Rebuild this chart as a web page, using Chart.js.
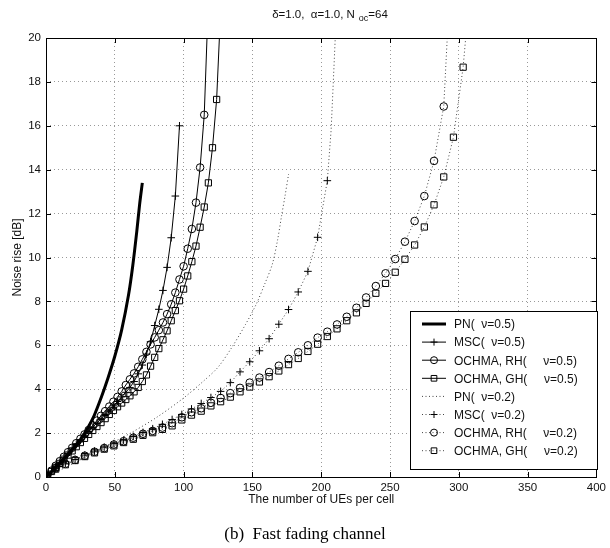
<!DOCTYPE html>
<html>
<head>
<meta charset="utf-8">
<script src="https://cdn.jsdelivr.net/npm/chart.js@4"></script>
<style>
  html, body { margin: 0; padding: 0; background: #fff; }
  #wrap { width: 610px; height: 548px; position: relative; }
</style>
</head>
<body>
<div id="wrap"><canvas id="grafico" width="610" height="548"></canvas></div>
<script>
// ticks
var xTicks = [0, 50, 100, 150, 200, 250, 300, 350, 400];
var yTicks = [0, 2, 4, 6, 8, 10, 12, 14, 16, 18, 20];

// nu = 0.5
var pn05X = [0, 5, 10, 15, 20, 25, 30, 35, 40, 45, 50, 55, 60, 63, 66, 68, 70];
var pn05Y = [0, 0.3, 0.62, 0.95, 1.3, 1.7, 2.2, 2.8, 3.6, 4.5, 5.5, 6.7, 8.3, 9.6, 11.2, 12.4, 13.4];

var x05 = [1, 4, 7, 10, 13, 16, 19, 22, 25, 28, 31, 34, 37, 40, 43, 46, 49, 52, 55, 58, 61, 64, 67, 70,
           73, 76, 79, 82, 85, 88, 91, 94, 97, 100, 103, 106, 109, 112, 115, 118, 121, 124];
var msc05Y = [0.07, 0.27, 0.48, 0.68, 0.88, 1.08, 1.28, 1.48, 1.67, 1.87, 2.07, 2.27, 2.46, 2.65, 2.85, 3.04,
              3.24, 3.44, 3.65, 3.86, 4.08, 4.35, 4.7, 5.1, 5.6, 6.16, 6.9, 7.64, 8.5, 9.55, 10.9, 12.8, 16.0];
var rh05Y = [0.07, 0.29, 0.51, 0.72, 0.92, 1.13, 1.33, 1.54, 1.74, 1.94, 2.14, 2.35, 2.57, 2.79, 3.0, 3.21,
             3.43, 3.65, 3.9, 4.19, 4.45, 4.72, 5.02, 5.36, 5.7, 6.04, 6.36, 6.69, 7.04, 7.42, 7.87, 8.4,
             9.0, 9.6, 10.4, 11.3, 12.5, 14.1, 16.5];
var rh05Tail = [[117, 20]];
var gh05Y = [0.06, 0.25, 0.44, 0.62, 0.81, 1.0, 1.19, 1.38, 1.57, 1.76, 1.94, 2.12, 2.3, 2.48, 2.66, 2.85,
             3.03, 3.2, 3.37, 3.53, 3.7, 3.88, 4.08, 4.35, 4.65, 5.05, 5.45, 5.85, 6.25, 6.66, 7.12, 7.58,
             8.03, 8.56, 9.16, 9.81, 10.52, 11.38, 12.3, 13.4, 15.0, 17.2];
var gh05Tail = [[126, 20]];

// nu = 0.2
var pn02X = [0, 20, 40, 60, 80, 100, 115, 125, 135, 145, 153, 159, 164.5, 168.3, 171.2, 173.7, 176.3];
var pn02Y = [0, 0.62, 1.3, 1.95, 2.7, 3.6, 4.4, 5.0, 5.9, 6.95, 7.9, 8.8, 9.7, 10.8, 11.9, 12.8, 13.8];

var x02 = [0, 7.05, 14.1, 21.15, 28.2, 35.25, 42.3, 49.35, 56.4, 63.45, 70.5, 77.55, 84.6, 91.65, 98.7,
           105.75, 112.8, 119.85, 126.9, 133.95, 141, 148.05, 155.1, 162.15, 169.2, 176.25, 183.3, 190.35,
           197.4, 204.45, 211.5, 218.55, 225.6, 232.65, 239.7, 246.75, 253.8, 260.85, 267.9, 274.95, 282,
           289.05, 296.1, 303.15];
var msc02Y = [0, 0.4, 0.6, 0.8, 1.0, 1.18, 1.36, 1.52, 1.68, 1.85, 2.03, 2.2, 2.4, 2.62, 2.85, 3.1, 3.35,
              3.62, 3.9, 4.3, 4.79, 5.25, 5.75, 6.3, 6.96, 7.63, 8.43, 9.37, 10.92, 13.5];
var msc02Tail = [[207.2, 15.8], [208.8, 18], [210.2, 20]];
var rh02Y = [0, 0.4, 0.6, 0.78, 0.97, 1.15, 1.32, 1.48, 1.63, 1.79, 1.97, 2.1, 2.25, 2.45, 2.72, 2.95, 3.13,
             3.38, 3.6, 3.82, 4.06, 4.3, 4.53, 4.78, 5.07, 5.38, 5.68, 6.0, 6.35, 6.62, 6.95, 7.3, 7.71, 8.18,
             8.7, 9.28, 9.93, 10.72, 11.66, 12.8, 14.4, 16.88];
var rh02Tail = [[291.6, 20]];
var gh02Y = [0, 0.36, 0.56, 0.75, 0.93, 1.1, 1.27, 1.42, 1.57, 1.72, 1.9, 2.02, 2.17, 2.33, 2.6, 2.82, 3.0,
             3.24, 3.43, 3.64, 3.88, 4.1, 4.33, 4.57, 4.83, 5.12, 5.4, 5.72, 6.05, 6.4, 6.75, 7.12, 7.48, 7.91,
             8.37, 8.82, 9.33, 9.92, 10.57, 11.39, 12.4, 13.67, 15.48, 18.67];
var gh02Tail = [[305, 20]];

function puntos(xs, ys, tail) {
  var d = ys.map(function (y, i) { return { x: xs[i], y: y }; });
  (tail || []).forEach(function (p) { d.push({ x: p[0], y: p[1] }); });
  return d;
}

function serie(label, data, nMark, style, dotted, thick) {
  return {
    label: label,
    data: data,
    borderColor: dotted ? '#444' : '#000',
    borderWidth: thick ? 3 : 1,
    borderDash: dotted ? [1, 2.5] : [],
    pointStyle: style || false,
    pointRadius: function (ctx) { return style && ctx.dataIndex < nMark ? (style === 'rect' ? 4.4 : 3.8) : 0; },
    pointBorderColor: '#000',
    pointBackgroundColor: 'rgba(0,0,0,0)',
    pointBorderWidth: 1,
    tension: thick || !style ? 0.3 : 0,
    fill: false
  };
}

var datasets = [
  serie('PN(  \u03bd=0.5)', puntos(pn05X, pn05Y), 0, null, false, true),
  serie('MSC(  \u03bd=0.5)', puntos(x05, msc05Y), msc05Y.length, 'cross', false, false),
  serie('OCHMA, RH(     \u03bd=0.5)', puntos(x05, rh05Y, rh05Tail), rh05Y.length, 'circle', false, false),
  serie('OCHMA, GH(     \u03bd=0.5)', puntos(x05, gh05Y, gh05Tail), gh05Y.length, 'rect', false, false),
  serie('PN(  \u03bd=0.2)', puntos(pn02X, pn02Y), 0, null, true, false),
  serie('MSC(  \u03bd=0.2)', puntos(x02, msc02Y, msc02Tail), msc02Y.length, 'cross', true, false),
  serie('OCHMA, RH(     \u03bd=0.2)', puntos(x02, rh02Y, rh02Tail), rh02Y.length, 'circle', true, false),
  serie('OCHMA, GH(     \u03bd=0.2)', puntos(x02, gh02Y, gh02Tail), gh02Y.length, 'rect', true, false)
];

var fuente = '"Liberation Sans", Arial, sans-serif';

// caja, marcas hacia dentro, titulo, leyenda y pie
var extras = {
  id: 'extras',
  afterDraw: function (chart) {
    var ctx = chart.ctx, a = chart.chartArea;
    var sx = chart.scales.x, sy = chart.scales.y;
    ctx.save();
    ctx.strokeStyle = '#000';
    ctx.lineWidth = 1;
    ctx.setLineDash([]);
    ctx.strokeRect(Math.round(a.left) + 0.5, Math.round(a.top) + 0.5,
                   Math.round(a.right - a.left), Math.round(a.bottom - a.top));
    ctx.beginPath();
    xTicks.forEach(function (v) {
      var px = Math.round(sx.getPixelForValue(v)) + 0.5;
      ctx.moveTo(px, a.bottom); ctx.lineTo(px, a.bottom - 5);
      ctx.moveTo(px, a.top); ctx.lineTo(px, a.top + 5);
    });
    yTicks.forEach(function (v) {
      var py = Math.round(sy.getPixelForValue(v)) + 0.5;
      ctx.moveTo(a.left, py); ctx.lineTo(a.left + 5, py);
      ctx.moveTo(a.right, py); ctx.lineTo(a.right - 5, py);
    });
    ctx.stroke();

    // titulo
    ctx.fillStyle = '#111';
    ctx.textBaseline = 'alphabetic';
    ctx.textAlign = 'left';
    var t1 = '\u03b4=1.0,  \u03b1=1.0, N', t2 = 'oc', t3 = '=64';
    ctx.font = '11.5px ' + fuente;
    var w1 = ctx.measureText(t1).width, w3 = ctx.measureText(t3).width;
    ctx.font = '9px ' + fuente;
    var w2 = ctx.measureText(t2).width + 4;
    var x0 = 330 - (w1 + w2 + w3) / 2;
    ctx.font = '11.5px ' + fuente;
    ctx.fillText(t1, x0, 18);
    ctx.font = '9px ' + fuente;
    ctx.fillText(t2, x0 + w1 + 4, 21);
    ctx.font = '11.5px ' + fuente;
    ctx.fillText(t3, x0 + w1 + w2, 18);

    // leyenda
    var lx = 410, ly = 311, lw = 187, lh = 158;
    ctx.fillStyle = '#fff';
    ctx.fillRect(lx, ly, lw, lh);
    ctx.strokeStyle = '#000';
    ctx.strokeRect(lx + 0.5, ly + 0.5, lw, lh);
    chart.data.datasets.forEach(function (ds, i) {
      var ry = ly + 13 + i * 18.1;
      ctx.save();
      ctx.strokeStyle = ds.borderColor;
      ctx.lineWidth = ds.borderWidth;
      ctx.setLineDash(ds.borderDash);
      ctx.beginPath();
      ctx.moveTo(422, ry); ctx.lineTo(446, ry);
      ctx.stroke();
      ctx.setLineDash([]);
      if (ds.pointStyle) {
        ctx.strokeStyle = '#000';
        ctx.fillStyle = 'rgba(0,0,0,0)';
        ctx.lineWidth = 1;
        Chart.helpers.drawPoint(ctx, { pointStyle: ds.pointStyle, rotation: 0,
          radius: ds.pointStyle === 'rect' ? 4 : 3.5, borderWidth: 1 }, 434, ry);
      }
      ctx.restore();
      ctx.fillStyle = '#111';
      ctx.font = '12px ' + fuente;
      ctx.textBaseline = 'middle';
      ctx.fillText(ds.label, 454, ry + 1);
    });

    // pie de figura
    ctx.font = '17px "Liberation Serif", "Times New Roman", serif';
    ctx.textAlign = 'center';
    ctx.textBaseline = 'alphabetic';
    ctx.fillStyle = '#000';
    ctx.fillText('(b)  Fast fading channel', 305, 539);
    ctx.restore();
  }
};

var grilla = { color: '#999', lineWidth: 1, drawTicks: false };
var borde = { display: false, dash: [1, 3] };

document.addEventListener('DOMContentLoaded', function () {
  var ctx = document.getElementById('grafico').getContext('2d');
  new Chart(ctx, {
    type: 'line',
    data: { datasets: datasets },
    options: {
      responsive: false,
      animation: false,
      parsing: false,
      layout: { padding: { top: 38, right: 8, left: 0, bottom: 0 } },
      plugins: { legend: { display: false }, tooltip: { enabled: false } },
      scales: {
        x: {
          type: 'linear', min: 0, max: 400,
          afterFit: function (s) { s.height = 71; },
          afterBuildTicks: function (s) { s.ticks = xTicks.map(function (v) { return { value: v }; }); },
          grid: grilla, border: borde,
          ticks: { padding: 4, color: '#111', font: { family: fuente, size: 11.5 } },
          title: { display: true, text: 'The number of UEs per cell', color: '#111',
                   font: { family: fuente, size: 12 }, padding: { top: 0, bottom: 41 } }
        },
        y: {
          type: 'linear', min: 0, max: 20,
          afterFit: function (s) { s.width = 46; },
          afterBuildTicks: function (s) { s.ticks = yTicks.map(function (v) { return { value: v }; }); },
          grid: grilla, border: borde,
          ticks: { padding: 5, color: '#111', font: { family: fuente, size: 11.5 } },
          title: { display: true, text: 'Noise rise [dB]', color: '#111',
                   font: { family: fuente, size: 12 }, padding: { top: 10, bottom: 0 } }
        }
      }
    },
    plugins: [extras]
  });
});
</script>
</body>
</html>
